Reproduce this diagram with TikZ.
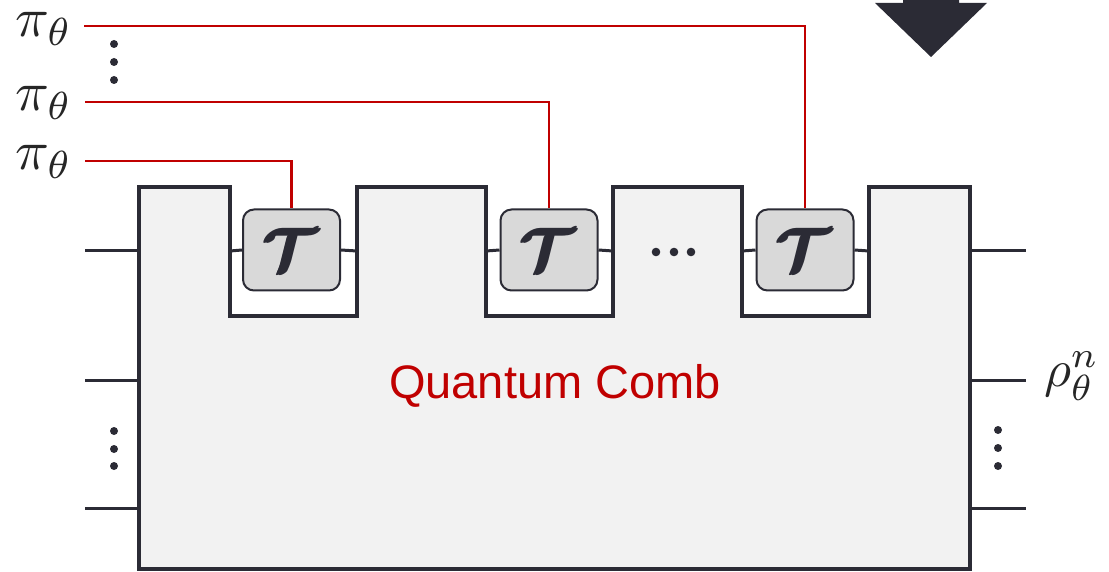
\documentclass[tikz,border=0pt]{standalone}
\usepackage{amsmath,bm}
\usepackage{fontspec}
\newfontfamily\arialf{Liberation Sans}
\definecolor{dk}{HTML}{2B2B35}
\definecolor{rd}{HTML}{C00000}
\definecolor{combfill}{HTML}{F2F2F2}
\definecolor{boxfill}{HTML}{D9D9D9}
\newcommand{\Tsym}{\scalebox{6}{$\pmb{\bm{\mathcal{T}}}$}}
\tikzset{
  comb/.style={draw=dk, fill=combfill, line width=4pt, line join=miter},
  tbox/.style={draw=dk, fill=boxfill, line width=2pt, rounded corners=11pt,
    minimum width=97pt, minimum height=81pt, inner sep=0pt, text=dk},
  wire/.style={draw=dk, line width=3pt},
  redwire/.style={draw=rd, line width=2.2pt},
  lbl/.style={scale=5.6, inner sep=0pt, text=black!85},
  dot/.style={fill=dk},
}
\begin{document}
\begin{tikzpicture}[x=1pt,y=-1pt]
\useasboundingbox (0,0) rectangle (1109,572);
% comb body
\draw[comb] (139,569) -- (139,187) -- (230,187) -- (230,316) -- (357,316) -- (357,187)
  -- (486,187) -- (486,316) -- (613,316) -- (613,187) -- (742,187) -- (742,316)
  -- (869,316) -- (869,187) -- (970,187) -- (970,569) -- cycle;
% T boxes
\node[tbox] (T1) at (291.5,250) {\Tsym};
\node[tbox] (T2) at (549,250) {\Tsym};
\node[tbox] (T3) at (805,250) {\Tsym};
% slot wires
\coordinate (s1l) at (230,251); \coordinate (s1r) at (357,251);
\coordinate (s2l) at (486,251); \coordinate (s2r) at (613,251);
\coordinate (s3l) at (742,251); \coordinate (s3r) at (869,251);
\draw[wire] (s1l) -- (T1.west);
\draw[wire] (T1.east) -- (s1r);
\draw[wire] (s2l) -- (T2.west);
\draw[wire] (T2.east) -- (s2r);
\draw[wire] (s3l) -- (T3.west);
\draw[wire] (T3.east) -- (s3r);
% middle dots
\fill[dot] (656,252) circle (4.3) (674,252) circle (4.3) (691,252) circle (4.3);
% left wires
\coordinate (la1) at (85,251); \coordinate (lb1) at (139,251);
\coordinate (la2) at (85,380); \coordinate (lb2) at (139,380);
\coordinate (la3) at (85,508); \coordinate (lb3) at (139,508);
\draw[wire] (la1) -- (lb1);
\draw[wire] (la2) -- (lb2);
\draw[wire] (la3) -- (lb3);
\fill[dot] (114,431) circle (4) (114,449) circle (4) (114,466) circle (4);
% right wires
\coordinate (ra1) at (970,251); \coordinate (rb1) at (1026,251);
\coordinate (ra2) at (970,380); \coordinate (rb2) at (1026,380);
\coordinate (ra3) at (970,508); \coordinate (rb3) at (1026,508);
\draw[wire] (ra1) -- (rb1);
\draw[wire] (ra2) -- (rb2);
\draw[wire] (ra3) -- (rb3);
\fill[dot] (998,430) circle (4) (998,448) circle (4) (998,466) circle (4);
% red control wires
\coordinate (c1) at (84,26);
\coordinate (c2) at (85,102);
\coordinate (c3) at (85,161);
\draw[redwire] (c1) -| (T3.north);
\draw[redwire] (c2) -| (T2.north);
\draw[redwire] (c3) -| (T1.north);
\fill[dot] (114,44) circle (4) (114,62) circle (4) (114,80) circle (4);
% labels
\node[lbl, anchor=base west] (p1) at (14,37) {$\pi_\theta$};
\node[lbl, anchor=base west] (p2) at (14,111) {$\pi_\theta$};
\node[lbl, anchor=base west] (p3) at (14,170) {$\pi_\theta$};
\node[lbl, scale=0.93, anchor=base west] (rho) at (1043,386) {$\rho_\theta^n$};
\node[anchor=base, text=rd, inner sep=0pt] (qc) at (555,398)
  {\arialf\fontsize{47}{50}\selectfont Quantum Comb};
% arrow
\fill[dk] (903,0) -- (903,3) -- (875,3) -- (931,57) -- (987,3) -- (959,3) -- (959,0) -- cycle;
\end{tikzpicture}
\end{document}
